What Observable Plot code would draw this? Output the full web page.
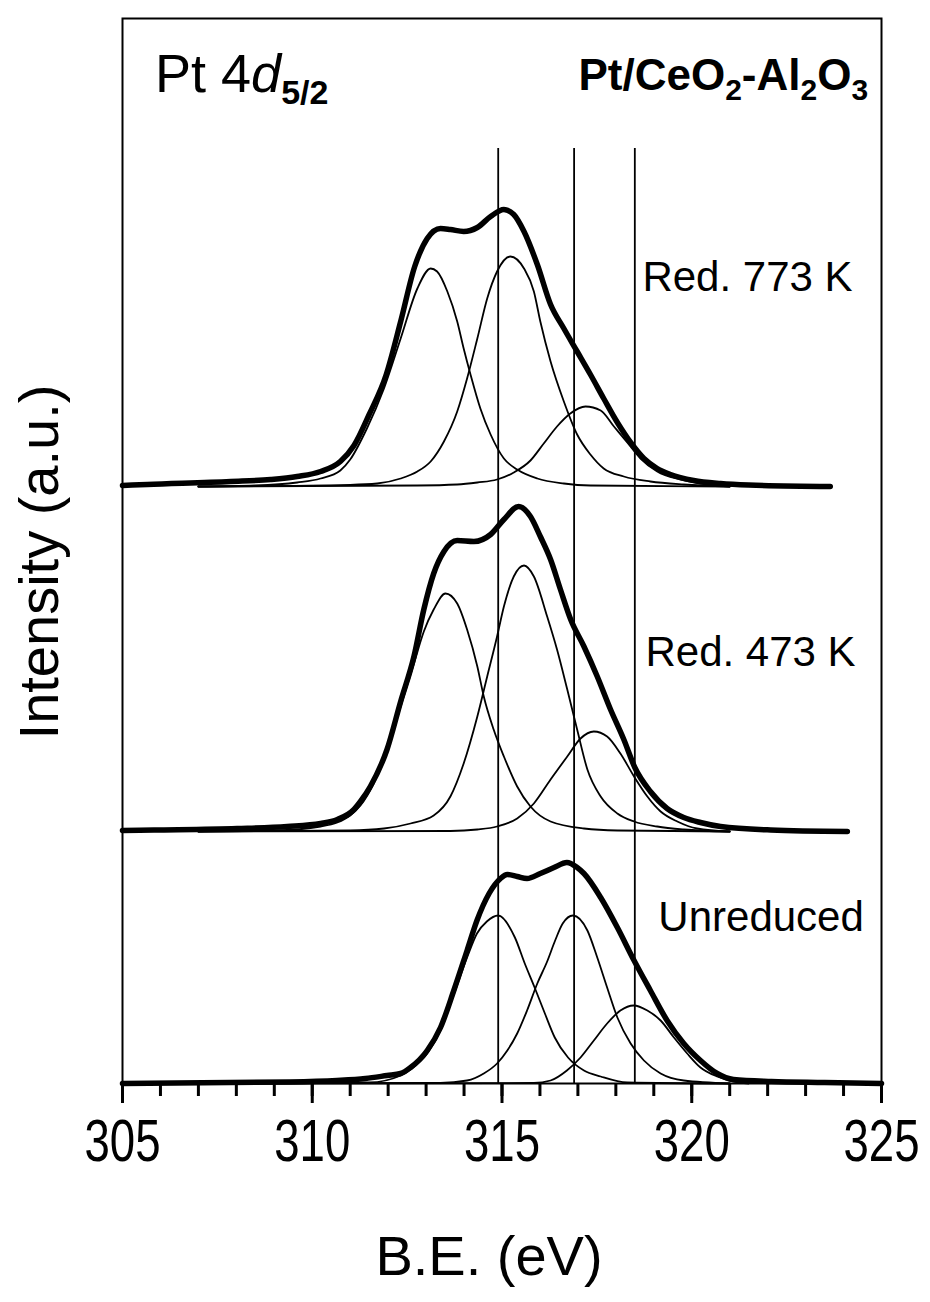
<!DOCTYPE html>
<html><head><meta charset="utf-8">
<script src="https://cdn.jsdelivr.net/npm/d3@7"></script>
<script src="https://cdn.jsdelivr.net/npm/@observablehq/plot@0.6"></script>
<style>
html,body{margin:0;padding:0;background:#fff;}
#chart svg{display:block;}
</style></head><body><div id="chart"></div>
<script>
// ---------- data (binding energy in eV, intensity in a.u. above each baseline) ----------
const spectra = ["Red. 773 K", "Red. 473 K", "Unreduced"];
const spectrumOffsets = [597, 252, 0];           // vertical stacking offsets (a.u.)
const markerBE = [314.9, 316.9, 318.5];           // reference lines (eV)
const markerTop = 935;                            // top of reference lines (a.u.)
const xTicksMinor = d3.range(305, 326, 1);
const xTicksMajor = [305, 310, 315, 320, 325];

// Red. 773 K
const red773Envelope = [[305,1],[305.65,2],[307.85,5],[308.9,7],[309.6,10],[310.22,15],[310.74,25],[311.1,41],[311.5,72],[311.95,112],[312.33,165],[312.7,220],[313.03,248],[313.38,258],[313.64,257],[313.99,255],[314.35,259],[314.7,270],[315.05,277],[315.31,272],[315.58,255],[315.93,222],[316.28,182],[316.63,158],[316.98,135],[317.33,112],[317.68,88],[318.04,64],[318.39,44],[318.74,28],[319.09,18],[319.44,12],[320.05,6],[320.76,3],[321.5,1.5],[323.65,0]];
const red773PeakA = [[307,0],[308.5,1],[309.6,4],[310.22,8],[310.74,16],[311.0,27],[311.44,58],[311.89,98],[312.33,148],[312.77,198],[313.12,218],[313.29,215],[313.56,195],[313.82,165],[313.99,138],[314.17,112],[314.43,78],[314.7,52],[315.05,28],[315.4,17],[315.93,8],[316.63,3],[317.33,1],[321,0]];
const red773PeakB = [[307,0],[311.0,1.7],[311.71,3],[312.33,8],[312.77,15],[313.12,25],[313.47,45],[313.82,75],[314.08,108],[314.35,148],[314.61,188],[314.87,215],[315.22,230],[315.58,218],[315.84,195],[316.01,165],[316.28,125],[316.63,85],[316.98,52],[317.33,32],[317.68,18],[318.21,10],[318.91,5],[319.79,2],[321,0]];
const red773PeakC = [[307,0],[312.77,1],[313.82,2],[314.35,4],[314.87,7],[315.31,14],[315.75,26],[316.1,43],[316.45,60],[316.8,73],[317.2,80],[317.6,76],[317.95,60],[318.3,44],[318.65,28],[319.09,15],[319.7,7],[320.23,3],[321,0]];

// Red. 473 K
const red473Envelope = [[305,1],[305.83,1.5],[308.02,3],[309.34,5],[310.22,8],[310.66,12],[311.1,22],[311.27,30],[311.53,45],[311.97,82],[312.33,130],[312.68,175],[312.94,222],[313.2,258],[313.47,280],[313.82,291],[314.26,290],[314.7,297],[315.05,312],[315.44,325],[315.75,315],[316.01,295],[316.28,272],[316.54,242],[316.81,212],[317.16,185],[317.51,155],[317.86,122],[318.21,92],[318.5,64],[318.91,40],[319.35,23],[319.79,14],[320.23,9],[320.76,5],[322.08,1.5],[324.1,0]];
const red473PeakA = [[307,0],[309,1],[310.22,5],[310.66,9],[311.0,16],[311.27,26],[311.62,48],[311.97,80],[312.33,125],[312.68,168],[312.94,200],[313.2,222],[313.51,238],[313.82,228],[314.08,202],[314.35,165],[314.52,135],[314.78,102],[315.05,75],[315.4,45],[315.75,25],[316.28,10],[317.16,3],[318.04,1],[321,0]];
const red473PeakB = [[307,0],[311.0,1],[311.89,3],[312.59,8],[313.2,16],[313.64,35],[313.99,68],[314.35,115],[314.61,155],[314.87,195],[315.05,225],[315.31,255],[315.58,266],[315.84,255],[316.19,215],[316.45,182],[316.72,142],[316.98,102],[317.25,62],[317.6,35],[318.04,18],[318.48,10],[319.09,5],[319.79,2],[321,0]];
const red473PeakC = [[307,0],[313.64,0.5],[314.35,2],[314.87,5],[315.4,13],[315.84,28],[316.28,52],[316.72,75],[317.07,93],[317.42,100],[317.77,95],[318.12,78],[318.48,55],[318.83,35],[319.18,20],[319.62,10],[320.14,3],[321,0]];

// Unreduced
const unredEnvelope = [[305,0],[309.4,1.5],[310.65,3],[311.4,5],[311.97,8],[312.33,10],[312.59,16],[313.03,33],[313.38,56],[313.73,93],[314.08,133],[314.34,163],[314.66,190],[314.96,205],[315.14,209],[315.4,207],[315.66,205],[316.01,210],[316.37,216],[316.71,221],[316.98,216],[317.16,210],[317.6,186],[318.04,156],[318.48,123],[318.91,93],[319.35,63],[319.79,40],[320.23,23],[320.67,10],[321.1,4],[322.1,2],[323.5,1],[325,0]];
const unredPeakA = [[307,0],[311.5,1],[312.33,8],[312.59,14],[313.03,30],[313.38,53],[313.73,89],[314.08,126],[314.34,150],[314.6,162],[314.9,168],[315.34,146],[315.6,120],[315.86,96],[316.13,70],[316.39,46],[316.74,26],[317.16,13],[317.6,7],[318.3,1],[321,0]];
const unredPeakB = [[307,0],[313.38,0.5],[314.08,3],[314.52,10],[314.87,20],[315.14,33],[315.4,50],[315.66,73],[315.93,100],[316.19,122],[316.4,143],[316.6,160],[316.87,168],[317.25,153],[317.51,126],[317.77,96],[318.04,66],[318.39,40],[318.74,23],[319.18,10],[319.79,3],[321,0]];
const unredPeakC = [[307,0],[315.84,0.5],[316.28,3],[316.71,13],[317.07,26],[317.42,43],[317.77,60],[318.12,73],[318.47,78],[318.83,73],[319.18,63],[319.53,46],[319.88,30],[320.23,16],[320.67,7],[321.1,2],[321.5,0]];

// annotation anchors (data units)
const sampleLabelBE = [318.7, 318.78, 319.12];
const sampleLabelI = [793, 418, 153];

// ---------- build tables ----------
const envelopes = [red773Envelope, red473Envelope, unredEnvelope];
const components = [[red773PeakA, red773PeakB, red773PeakC],[red473PeakA, red473PeakB, red473PeakC],[unredPeakA, unredPeakB, unredPeakC]];
const envRows = [], compRows = [];
envelopes.forEach((arr, i) => arr.forEach(([be, v]) => envRows.push({key: spectra[i], be, intensity: v + spectrumOffsets[i]})));
components.forEach((list, i) => list.forEach((arr, j) => arr.forEach(([be, v]) => compRows.push({key: spectra[i] + "-" + j, be, intensity: v + spectrumOffsets[i]}))));
const labelRows = spectra.map((s, i) => ({s, be: sampleLabelBE[i], intensity: sampleLabelI[i]}));

const FONT = "'Liberation Sans', Arial, Helvetica, sans-serif";

const chart = Plot.plot({
  width: 930, height: 1302,
  marginLeft: 122, marginRight: 49, marginTop: 18, marginBottom: 219,
  style: {fontFamily: FONT, background: "white", color: "black"},
  x: {domain: [305, 325], label: null, axis: null},
  y: {domain: [0, 1065], label: null, axis: null},
  marks: [
    Plot.ruleX(markerBE, {y1: 0, y2: markerTop, stroke: "black", strokeWidth: 1.8}),
    Plot.line(compRows, {x: "be", y: "intensity", z: "key", curve: "monotone-x", stroke: "black", strokeWidth: 1.8}),
    Plot.line(envRows, {x: "be", y: "intensity", z: "key", curve: "monotone-x", stroke: "black", strokeWidth: 5.5, strokeLinecap: "round", strokeLinejoin: "round"}),
    Plot.frame({stroke: "black", strokeWidth: 2}),
    Plot.axisX({ticks: xTicksMinor, tickSize: 13, tickFormat: () => "", strokeWidth: 3, label: null}),
    Plot.axisX({ticks: xTicksMajor, tickSize: 20, tickPadding: 15, fontSize: 60, strokeWidth: 3, label: null, tickFormat: d3.format("d")}),
    Plot.text(labelRows, {x: "be", y: "intensity", text: "s", textAnchor: "start", lineAnchor: "bottom", fontSize: 42, fill: "black"})
  ]
});
document.getElementById("chart").appendChild(chart);

// condense major tick labels like the original
d3.select(chart).selectAll('g[aria-label="x-axis tick label"] text').each(function() {
  const t = this.getAttribute("transform") || "";
  this.setAttribute("transform", t + " scale(0.76,1)");
});

const svg = d3.select(chart);
const X = chart.scale("x"), Y = chart.scale("y");

// Axis titles
svg.append("text").attr("x", 489).attr("y", 1275).attr("text-anchor", "middle")
  .attr("font-size", 56).attr("font-family", FONT).attr("fill", "black").text("B.E. (eV)");
svg.append("text").attr("transform", "translate(58,562) rotate(-90)").attr("text-anchor", "middle")
  .attr("font-size", 56).attr("font-family", FONT).attr("fill", "black").text("Intensity (a.u.)");

// Pt 4d5/2
const t1 = svg.append("text").attr("x", X.apply(305.87)).attr("y", Y.apply(991)).attr("text-anchor", "start")
  .attr("font-size", 54).attr("font-family", FONT).attr("fill", "black");
t1.append("tspan").text("Pt 4");
t1.append("tspan").attr("font-style", "italic").text("d");
t1.append("tspan").attr("font-size", 34).attr("font-weight", "bold").attr("dy", 12).text("5/2");

// Pt/CeO2-Al2O3
const t2 = svg.append("text").attr("x", X.apply(324.66)).attr("y", Y.apply(993)).attr("text-anchor", "end")
  .attr("font-size", 44).attr("font-weight", "bold").attr("font-family", FONT).attr("fill", "black");
t2.append("tspan").text("Pt/CeO");
t2.append("tspan").attr("font-size", 30).attr("dy", 10).text("2");
t2.append("tspan").attr("dy", -10).text("-Al");
t2.append("tspan").attr("font-size", 30).attr("dy", 10).text("2");
t2.append("tspan").attr("dy", -10).text("O");
t2.append("tspan").attr("font-size", 30).attr("dy", 10).text("3");
</script></body></html>
